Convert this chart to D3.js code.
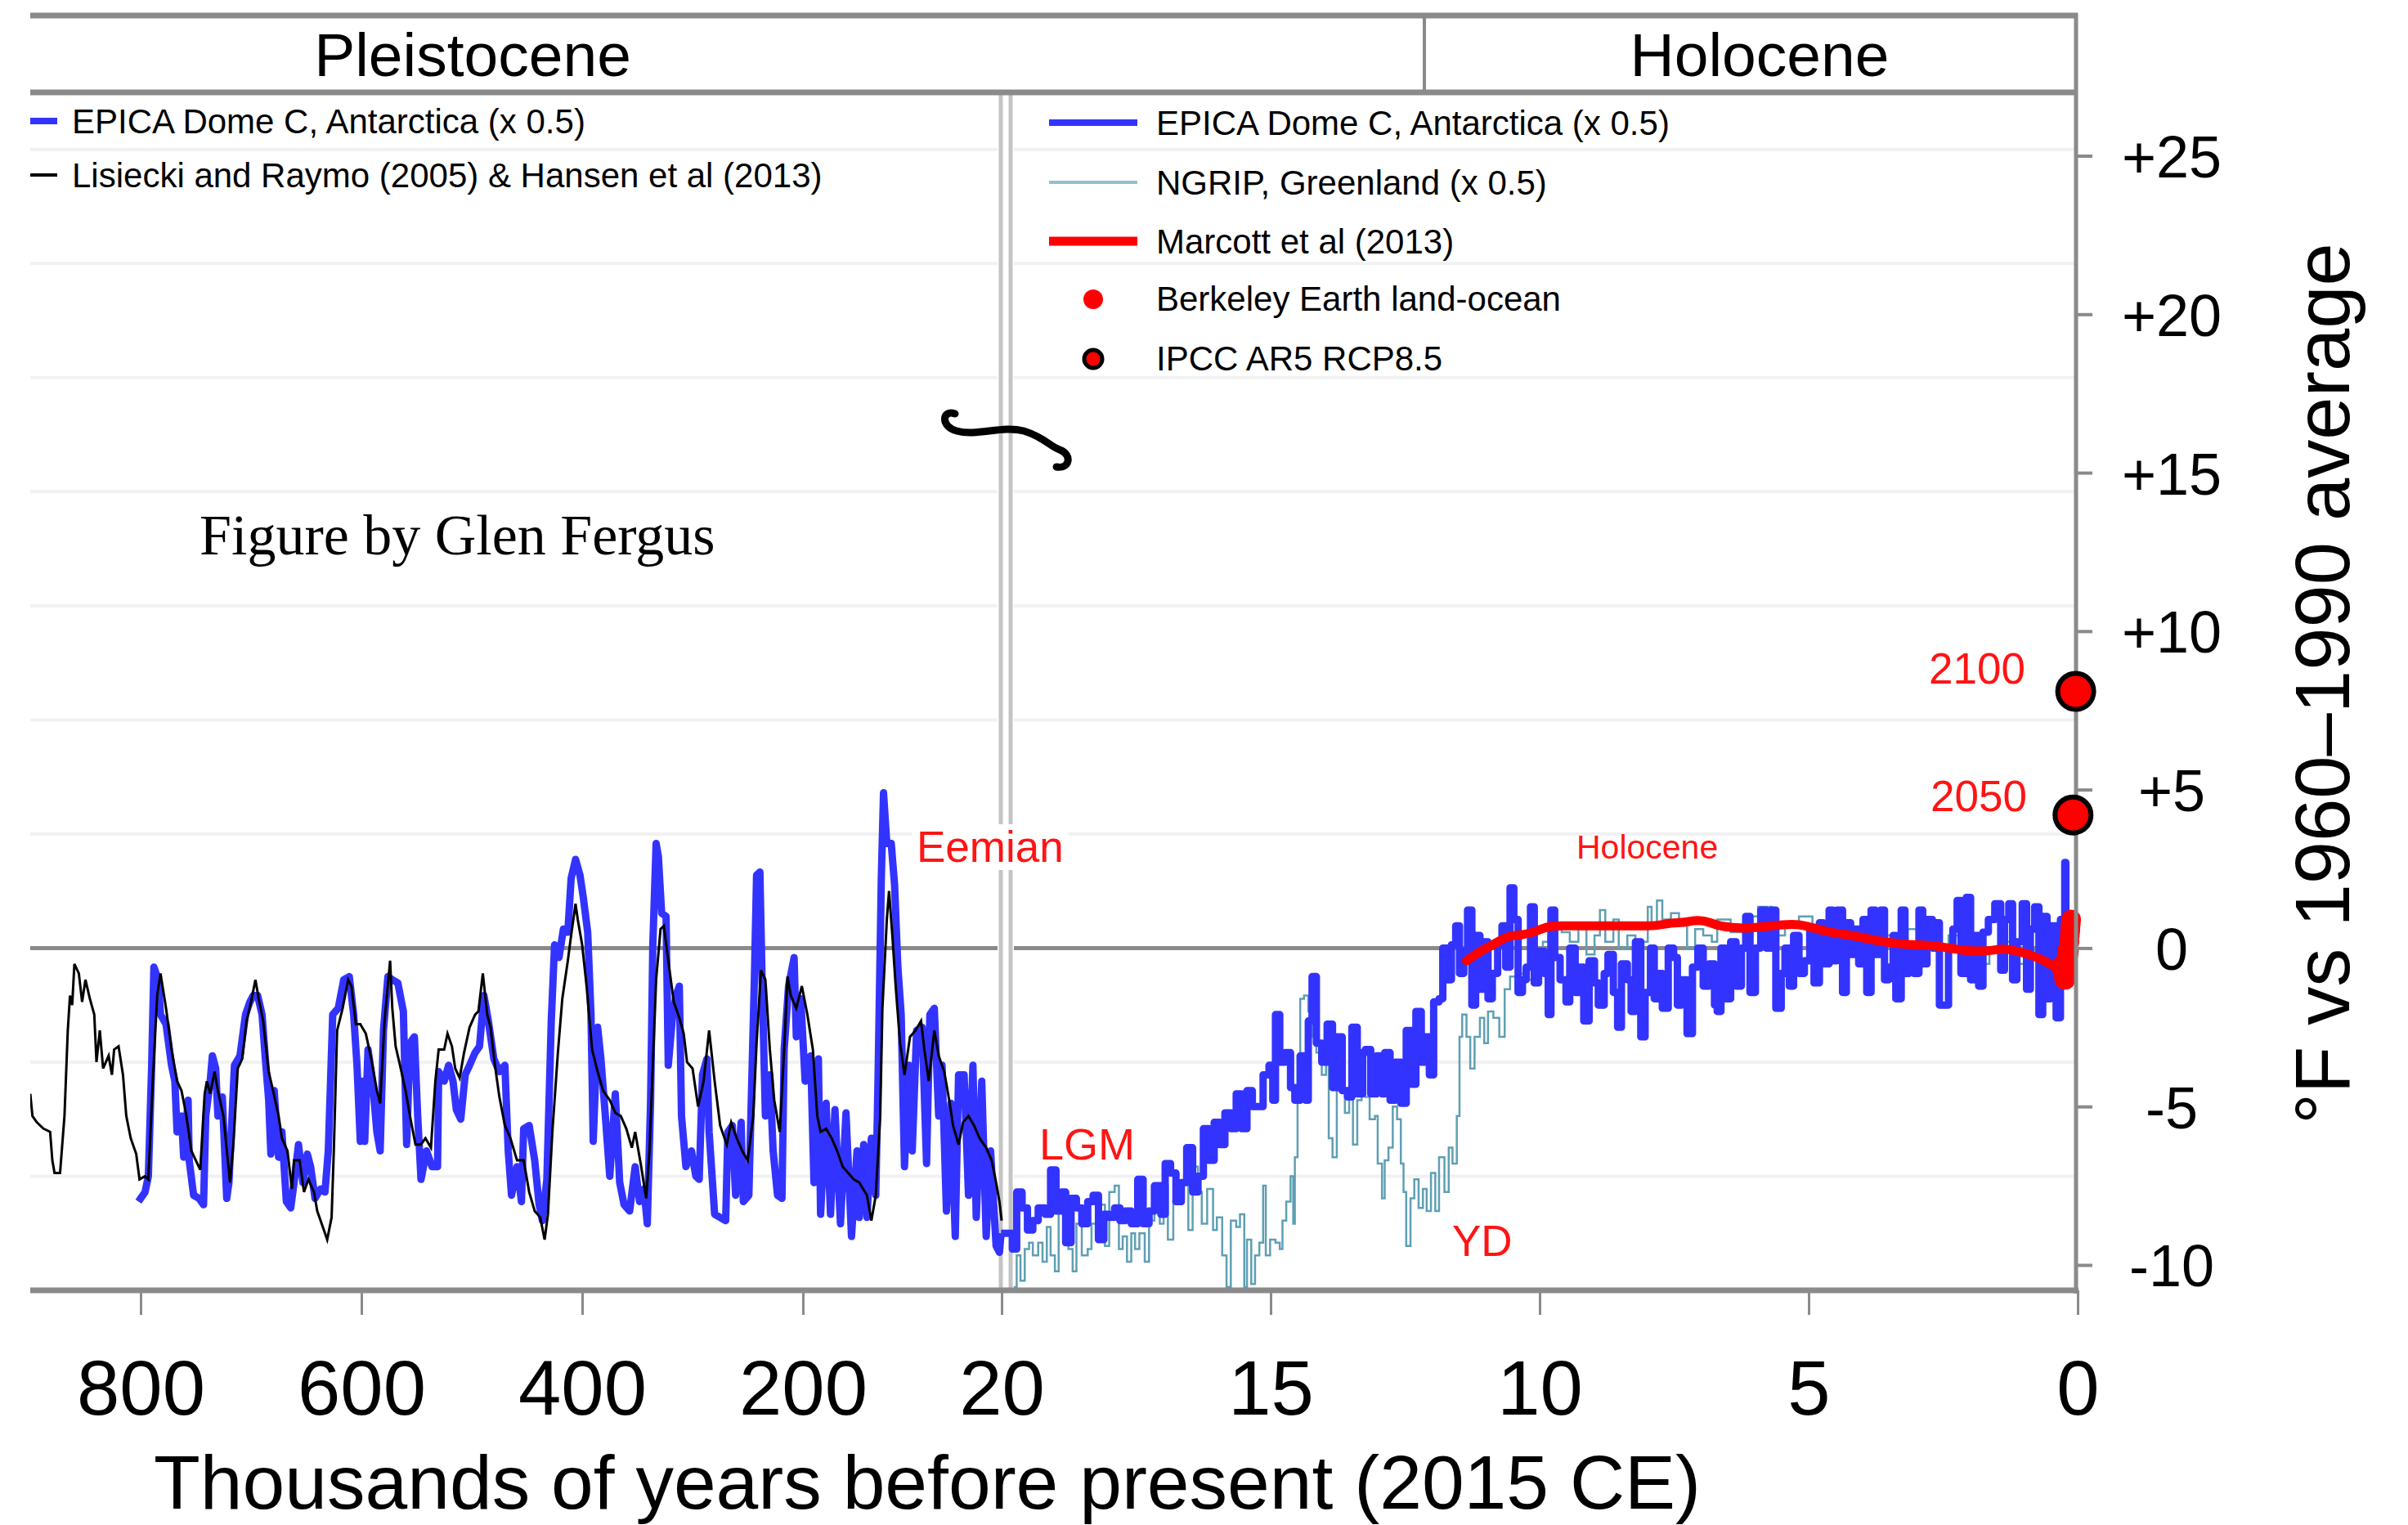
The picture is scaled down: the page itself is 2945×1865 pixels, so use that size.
<!DOCTYPE html>
<html>
<head>
<meta charset="utf-8">
<script src="https://cdn.jsdelivr.net/npm/d3@7"></script>
<style>
  body { margin: 0; background: #fff; }
  svg { display: block; font-family: "Liberation Sans", Arial, Helvetica, sans-serif; }
</style>
</head>
<body>
<div id="chart"></div>
<script>
const width = 2945;
const height = 1865;

////////////////////////////////////////////////////////
// DATA  (age in thousands of years before 2015, temperature in °F)
////////////////////////////////////////////////////////

// EPICA Dome C, Antarctica (x 0.5)
const epica = [
  [802,-8.0],[796,-7.7],[793,-7.2],[790,-3.7],[788,-0.6],[784,-1.0],[782,-2.1],[777,-2.4],[772,-3.7],[769,-4.2],
  [767,-5.8],[763,-5.3],[761,-6.6],[757,-4.8],[756,-6.7],[752,-7.8],[747,-7.9],[743,-8.1],[741,-5.3],[737,-4.2],
  [735,-3.4],[732,-3.8],[730,-5.3],[726,-4.7],[722,-7.9],[720,-7.4],[715,-3.7],[710,-3.4],[705,-2.1],[701,-1.7],
  [698,-1.5],[694,-1.5],[690,-2.1],[687,-3.5],[684,-4.8],[682,-6.5],[679,-4.5],[675,-6.6],[672,-5.8],[668,-8.0],
  [664,-8.2],[661,-7.4],[657,-6.2],[653,-7.4],[649,-6.5],[646,-6.9],[642,-7.9],[637,-7.6],[633,-7.7],[630,-6.4],
  [626,-2.1],[621,-1.9],[616,-1.0],[611,-0.9],[607,-2.1],[604,-3.7],[601,-6.1],[599,-4.2],[597,-6.1],[594,-3.2],
  [590,-4.2],[586,-5.8],[583,-6.4],[580,-2.6],[576,-0.9],[572,-1.0],[567,-1.1],[562,-2.0],[559,-6.2],[556,-3.0],
  [552,-2.8],[549,-5.3],[546,-7.3],[541,-6.4],[536,-6.9],[531,-6.9],[530,-3.9],[525,-4.2],[521,-3.7],[517,-4.2],
  [514,-5.1],[510,-5.4],[506,-4.0],[502,-3.7],[497,-3.3],[493,-3.1],[489,-1.5],[485,-2.3],[480,-3.5],[475,-3.9],
  [470,-3.7],[467,-6.4],[464,-7.8],[459,-6.9],[455,-8.0],[453,-5.7],[448,-5.6],[443,-6.7],[439,-8.1],[436,-8.6],
  [432,-7.3],[428,-2.3],[425,0.1],[421,-0.3],[417,0.6],[413,0.5],[410,2.2],[406,2.8],[402,2.3],[399,1.6],
  [395,0.5],[392,-2.1],[390,-6.1],[386,-2.5],[383,-3.5],[379,-5.3],[375,-7.2],[370,-4.6],[366,-7.4],[362,-8.1],
  [357,-8.3],[352,-6.9],[348,-8.0],[344,-7.6],[341,-8.7],[338,-4.8],[336,0.1],[333,3.3],[331,2.9],[328,1.1],
  [324,1.0],[322,-3.7],[318,-2.1],[315,-1.5],[312,-1.2],[310,-5.3],[306,-6.9],[301,-6.4],[297,-7.2],[294,-7.3],
  [291,-4.0],[287,-3.5],[285,-5.8],[280,-8.4],[275,-8.5],[270,-8.6],[268,-5.8],[264,-5.6],[261,-7.8],[256,-5.5],
  [254,-8.0],[249,-7.8],[247,-5.1],[244,-1.0],[242,2.3],[239,2.4],[237,-1.0],[234,-5.3],[230,-4.0],[227,-6.4],
  [223,-7.8],[219,-7.9],[217,-3.2],[213,-1.2],[208,-0.3],[206,-2.8],[202,-1.6],[198,-4.2],[193,-3.4],[190,-7.4],
  [186,-3.5],[184,-8.4],[179,-4.9],[175,-8.4],[171,-5.1],[166,-8.7],[161,-5.2],[156,-9.1],[151,-6.4],[149,-8.5],
  [145,-6.2],[142,-8.5],[138,-6.0],[134,-7.8],[132,-4.2],[129,2.2],[127,4.9],[124,3.3],[120,3.3],[117,2.0],
  [114,-0.6],[111,-2.1],[108,-6.9],[104,-3.7],[101,-6.4],[97,-2.6],[92,-2.5],[88,-6.8],[85,-2.1],[81,-1.9],
  [77,-5.3],[74,-3.7],[70,-8.3],[66,-4.9],[62,-9.1],[59,-4.0],[54,-4.0],[50,-7.8],[46,-3.7],[43,-8.5],
  [38,-4.2],[34,-9.1],[30,-6.4],[25,-9.4],[22,-9.6],[20.5,-9.0],
  [19.80,-9.5],[19.72,-7.7],[19.62,-8.2],[19.52,-8.9],[19.42,-8.6],[19.32,-8.2],[19.19,-8.4],[19.09,-7.0],[18.99,-8.3],[18.89,-7.7],
  [18.81,-9.3],[18.71,-7.9],[18.61,-8.2],[18.51,-8.7],[18.40,-8.0],[18.30,-7.8],[18.20,-9.2],[18.10,-8.4],[18.00,-8.5],[17.90,-8.2],
  [17.80,-8.6],[17.70,-8.3],[17.59,-8.7],[17.47,-7.3],[17.37,-8.7],[17.26,-8.3],[17.16,-7.5],[17.04,-8.4],[16.96,-6.8],[16.86,-7.1],
  [16.76,-8.0],[16.66,-7.4],[16.56,-6.3],[16.45,-7.7],[16.35,-7.2],[16.25,-5.7],[16.15,-6.7],[16.05,-5.5],[15.95,-6.2],[15.85,-5.2],
  [15.74,-5.7],[15.64,-4.6],[15.54,-5.7],[15.44,-4.5],[15.34,-5.0],[15.24,-5.0],[15.14,-4.0],[15.03,-3.7],[14.96,-4.8],[14.91,-2.1],
  [14.83,-3.6],[14.73,-3.3],[14.63,-4.4],[14.55,-4.8],[14.45,-3.4],[14.35,-4.8],[14.30,-2.3],[14.23,-0.9],[14.15,-3.0],[14.05,-3.6],
  [13.95,-2.4],[13.85,-4.4],[13.77,-2.8],[13.67,-4.5],[13.57,-4.7],[13.49,-2.5],[13.39,-4.6],[13.29,-3.3],[13.24,-3.2],[13.14,-4.6],
  [13.03,-3.4],[12.93,-4.6],[12.88,-3.3],[12.78,-4.8],[12.68,-3.6],[12.58,-4.9],[12.48,-2.6],[12.38,-4.3],[12.30,-2.0],[12.20,-3.6],
  [12.12,-2.8],[12.05,-4.0],[11.97,-1.7],[11.87,-1.6],[11.80,0.0],[11.72,-1.0],[11.64,0.1],[11.56,0.7],[11.49,-0.8],[11.41,-0.1],
  [11.34,1.2],[11.26,-1.8],[11.19,0.4],[11.11,-1.3],[11.03,0.2],[10.96,-1.6],[10.88,-0.8],[10.78,0.1],[10.70,0.7],[10.63,-0.6],
  [10.55,1.9],[10.48,0.9],[10.40,-1.4],[10.32,-1.0],[10.25,-0.6],[10.17,1.3],[10.10,-1.1],[10.02,-0.1],[9.92,-0.8],[9.84,-2.1],
  [9.79,1.2],[9.72,-0.3],[9.62,-1.0],[9.51,-1.7],[9.44,0.0],[9.34,-1.4],[9.26,-0.6],[9.18,-2.3],[9.08,-0.4],[8.98,-1.1],
  [8.91,-1.8],[8.80,-0.8],[8.73,-0.2],[8.63,-1.4],[8.55,-2.5],[8.48,-0.5],[8.37,-1.0],[8.30,-2.0],[8.22,0.2],[8.12,-2.8],
  [8.04,-1.4],[7.94,0.0],[7.87,-1.6],[7.79,-0.8],[7.72,-1.9],[7.61,0.0],[7.51,-0.3],[7.44,-1.8],[7.36,-1.0],[7.26,-2.7],
  [7.16,-0.6],[7.06,0.0],[6.96,-1.2],[6.85,-0.5],[6.75,-1.8],[6.70,-2.0],[6.63,0.0],[6.55,-1.6],[6.45,0.2],[6.35,-1.2],
  [6.25,0.0],[6.17,1.0],[6.09,-1.4],[5.99,0.0],[5.89,1.2],[5.79,0.0],[5.69,1.2],[5.61,-1.9],[5.51,-0.8],[5.44,0.0],
  [5.36,-1.2],[5.28,0.4],[5.18,-0.8],[5.08,-0.4],[4.98,0.6],[4.90,-1.1],[4.80,0.8],[4.73,-0.5],[4.62,1.2],[4.55,-0.4],
  [4.47,1.2],[4.37,-1.4],[4.30,0.8],[4.22,-0.2],[4.14,0.6],[4.07,-0.5],[3.99,0.9],[3.92,-1.4],[3.84,1.2],[3.76,-0.2],
  [3.66,1.2],[3.59,-1.0],[3.51,-0.6],[3.43,0.4],[3.38,-1.6],[3.28,1.2],[3.21,-0.8],[3.13,0.0],[3.05,-0.8],[2.95,1.2],
  [2.88,-0.5],[2.80,0.9],[2.70,0.0],[2.62,0.8],[2.57,-1.8],[2.47,-1.8],[2.40,0.0],[2.32,0.6],[2.24,1.5],[2.17,-0.8],
  [2.07,1.6],[1.99,-1.0],[1.91,0.4],[1.84,-1.2],[1.76,0.5],[1.66,0.9],[1.54,1.4],[1.43,-0.7],[1.36,0.9],[1.28,1.4],
  [1.21,-1.0],[1.13,0.2],[1.03,1.4],[0.95,-1.3],[0.88,0.6],[0.80,1.3],[0.72,-2.1],[0.65,1.0],[0.57,-1.6],[0.50,0.7],
  [0.40,-2.2],[0.32,0.9],[0.26,0.5],[0.24,2.7],[0.22,0.9]
];

// Lisiecki and Raymo (2005) & Hansen et al (2013)
const lr04 = [
  [900,-4.6],[898,-5.3],[894,-5.5],[888,-5.7],[882,-5.8],[880,-6.7],[878,-7.1],[873,-7.1],[869,-5.3],[866,-2.6],
  [864,-1.5],[862,-1.8],[860,-0.5],[856,-0.8],[853,-1.7],[850,-1.0],[846,-1.6],[842,-2.1],[840,-3.6],[837,-2.6],
  [834,-3.8],[829,-3.4],[826,-4.0],[824,-3.2],[820,-3.1],[816,-4.0],[813,-5.3],[809,-6.0],[804,-6.5],[801,-7.3],
  [796,-7.2],[793,-7.3],[789,-4.2],[785,-1.5],[782,-0.8],[777,-1.9],[772,-3.2],[767,-4.2],[763,-4.5],[759,-5.2],
  [754,-6.4],[750,-6.7],[746,-7.0],[742,-4.6],[740,-4.2],[737,-4.6],[733,-3.9],[730,-4.5],[725,-5.3],[719,-7.4],
  [716,-6.2],[712,-3.8],[708,-3.5],[704,-2.3],[700,-1.7],[696,-1.0],[693,-1.6],[689,-2.3],[684,-3.9],[680,-4.5],
  [675,-5.3],[672,-6.0],[667,-6.4],[663,-7.6],[661,-6.7],[656,-6.7],[652,-7.7],[648,-7.3],[643,-7.7],[640,-8.3],
  [636,-8.7],[631,-9.2],[627,-8.5],[625,-6.4],[622,-2.6],[617,-1.9],[612,-1.0],[609,-1.2],[605,-2.4],[601,-2.4],
  [596,-2.7],[591,-3.5],[586,-4.5],[583,-4.9],[579,-2.3],[574,-0.4],[572,-1.9],[569,-3.1],[565,-3.7],[560,-4.5],
  [556,-5.3],[551,-6.2],[546,-6.2],[542,-6.0],[537,-6.3],[533,-4.2],[530,-3.2],[525,-3.2],[522,-2.7],[518,-3.1],
  [515,-3.8],[511,-4.1],[507,-3.3],[502,-2.5],[497,-2.1],[494,-2.0],[490,-0.8],[486,-2.1],[483,-2.5],[479,-3.7],
  [475,-4.7],[470,-5.6],[465,-6.0],[459,-6.7],[453,-6.7],[448,-7.7],[443,-8.3],[438,-8.5],[434,-9.2],[431,-8.4],
  [427,-5.8],[422,-3.3],[418,-1.6],[413,-0.4],[410,0.4],[406,1.4],[404,0.9],[400,0.1],[396,-1.2],[391,-3.2],
  [386,-3.9],[381,-4.5],[375,-4.8],[370,-5.2],[365,-5.3],[360,-5.7],[355,-6.3],[352,-5.8],[347,-6.8],[342,-7.9],
  [339,-6.4],[337,-4.6],[333,-1.0],[329,0.6],[326,0.7],[322,-0.4],[317,-1.7],[312,-2.2],[308,-2.7],[305,-3.6],
  [300,-3.8],[295,-5.0],[290,-4.2],[285,-2.6],[280,-4.2],[275,-5.6],[269,-6.2],[265,-5.5],[260,-6.0],[255,-6.4],
  [250,-6.7],[245,-5.3],[242,-3.0],[238,-0.7],[234,-1.0],[230,-3.2],[226,-4.8],[221,-5.8],[217,-3.2],[214,-0.9],
  [211,-1.5],[206,-1.9],[201,-1.2],[196,-2.1],[191,-3.2],[187,-5.3],[184,-5.8],[179,-5.7],[174,-6.0],[169,-6.4],
  [164,-6.9],[159,-7.1],[154,-7.3],[149,-7.4],[142,-7.8],[138,-8.6],[134,-7.8],[130,-5.3],[128,-1.9],[124,0.9],
  [122,1.8],[119,0.4],[116,-1.2],[112,-3.0],[108,-4.0],[103,-2.8],[98,-2.6],[93,-2.3],[90,-3.2],[86,-4.2],
  [81,-2.6],[77,-3.4],[72,-3.9],[67,-4.9],[64,-5.6],[59,-6.2],[55,-5.5],[50,-5.3],[45,-5.6],[40,-6.0],
  [34,-6.3],[29,-6.7],[25,-7.4],[22,-8.0],[20,-8.6]
];

// NGRIP, Greenland (x 0.5)
const ngrip = [
  [19.77,-10.7],[19.72,-9.7],[19.65,-10.5],[19.57,-9.5],[19.49,-9.3],[19.42,-9.7],[19.32,-9.3],[19.24,-9.9],[19.16,-8.8],[19.09,-9.7],
  [19.01,-10.2],[18.94,-7.9],[18.83,-8.7],[18.76,-9.5],[18.68,-10.2],[18.61,-8.7],[18.51,-9.7],[18.40,-9.5],[18.33,-8.7],[18.25,-9.1],
  [18.15,-8.1],[18.08,-9.4],[18.00,-7.7],[17.90,-7.5],[17.82,-9.5],[17.75,-9.1],[17.67,-9.9],[17.59,-9.0],[17.52,-9.5],[17.44,-9.0],
  [17.34,-9.9],[17.26,-8.6],[17.16,-8.0],[17.06,-8.7],[16.99,-7.5],[16.91,-9.2],[16.81,-8.0],[16.71,-7.7],[16.63,-7.4],[16.53,-8.9],
  [16.45,-6.9],[16.35,-7.7],[16.28,-8.7],[16.18,-7.6],[16.07,-8.9],[16.00,-8.5],[15.90,-9.7],[15.82,-10.7],[15.74,-8.6],[15.64,-8.8],
  [15.57,-8.4],[15.49,-10.7],[15.44,-9.2],[15.36,-10.6],[15.29,-9.7],[15.21,-9.3],[15.14,-7.5],[15.09,-9.7],[15.01,-9.2],[14.91,-9.3],
  [14.83,-9.5],[14.78,-8.6],[14.71,-8.0],[14.63,-7.2],[14.58,-8.7],[14.55,-6.6],[14.50,-3.4],[14.45,-1.6],[14.38,-1.5],[14.30,-2.0],
  [14.23,-2.8],[14.15,-3.3],[14.05,-4.0],[13.97,-3.6],[13.92,-6.0],[13.85,-6.6],[13.77,-4.5],[13.69,-4.1],[13.62,-5.2],[13.54,-4.6],
  [13.47,-6.2],[13.39,-4.8],[13.31,-4.4],[13.24,-4.7],[13.16,-5.4],[13.06,-5.3],[13.01,-6.8],[12.93,-7.9],[12.88,-6.7],[12.81,-6.3],
  [12.73,-5.0],[12.65,-5.4],[12.58,-6.8],[12.53,-7.7],[12.48,-9.4],[12.40,-7.9],[12.33,-7.3],[12.25,-8.2],[12.17,-7.6],[12.10,-8.3],
  [12.02,-7.1],[11.94,-8.3],[11.87,-6.6],[11.77,-7.7],[11.69,-6.3],[11.62,-6.8],[11.54,-5.3],[11.49,-2.8],[11.44,-2.1],[11.36,-2.8],
  [11.29,-3.8],[11.21,-2.8],[11.11,-2.2],[11.03,-3.0],[10.96,-2.0],[10.86,-2.2],[10.75,-2.8],[10.65,-1.3],[10.55,-0.9],[10.45,-1.4],
  [10.35,-0.8],[10.25,-1.0],[10.15,-0.4],[10.05,-0.1],[9.94,0.2],[9.84,0.4],[9.74,0.6],[9.59,0.5],[9.44,0.2],[9.28,0.7],
  [9.13,-0.2],[8.98,0.4],[8.88,1.2],[8.78,0.2],[8.63,0.9],[8.53,0.0],[8.37,0.4],[8.22,-0.4],[8.12,0.2],[7.99,1.3],
  [7.92,0.7],[7.82,1.5],[7.72,0.9],[7.56,1.1],[7.41,0.7],[7.26,0.0],[7.11,0.6],[6.96,0.4],[6.80,0.2],[6.70,0.9],
  [6.45,0.5],[6.19,1.0],[5.94,1.3],[5.69,0.4],[5.44,0.8],[5.18,1.0],[4.93,0.4],[4.68,0.2],[4.42,0.6],[4.17,0.1],
  [3.92,0.7],[3.66,0.4],[3.41,0.2],[3.16,0.6],[2.90,0.4],[2.65,0.0],[2.40,0.4],[2.14,0.2],[1.89,-0.5],[1.64,0.0],
  [1.38,0.2],[1.13,-0.5],[0.88,-0.1],[0.62,-0.4],[0.47,0.0],[0.10,-0.2]
];

// Marcott et al (2013)
const marcott = [
  [11.36,-0.4],[11.11,-0.1],[10.86,0.1],[10.60,0.4],[10.35,0.4],[10.10,0.5],[9.84,0.7],[9.59,0.7],[9.34,0.7],[9.08,0.7],
  [8.83,0.7],[8.58,0.7],[8.32,0.7],[8.07,0.7],[7.82,0.7],[7.56,0.8],[7.31,0.8],[7.06,0.9],[6.80,0.8],[6.70,0.7],
  [6.19,0.6],[5.69,0.7],[5.18,0.8],[4.68,0.5],[4.17,0.4],[3.66,0.2],[3.16,0.1],[2.65,0.1],[2.14,-0.1],[1.64,-0.1],
  [1.38,0.0],[1.13,-0.1],[0.88,-0.2],[0.62,-0.4],[0.42,-0.6],[0.20,-0.8]
];

// Berkeley Earth land-ocean
const berkeleyYears = [1850,1855,1860,1865,1870,1875,1880,1885,1890,1895,1900,1905,1910,1915,1920,1925,1930,
                       1935,1940,1945,1950,1955,1960,1965,1970,1975,1980,1985,1990,1995,2000,2005,2010,2015];
const berkeleyTemps = [-0.7,-0.6,-0.8,-0.5,-0.6,-0.7,-0.6,-0.8,-1.0,-0.7,-0.6,-0.9,-1.0,-0.6,-0.6,-0.5,-0.4,
                       -0.4,-0.1,-0.2,-0.4,-0.3,0.0,-0.2,-0.1,-0.1,0.2,0.2,0.4,0.5,0.6,0.7,0.8,0.9];

// IPCC AR5 RCP8.5
const ipccYears = [2050, 2100];
const ipccTemps = [4.2, 8.1];

const xTicks = [800, 600, 400, 200, 20, 15, 10, 5, 0];
const yTicks = [-10, -5, 0, 5, 10, 15, 20, 25];
const gridCelsius = [-4, -2, 2, 4, 6, 8, 10, 12, 14];

////////////////////////////////////////////////////////
// SCALES
////////////////////////////////////////////////////////

const plotLeft = 37, plotRight = 2539, plotTop = 113, plotBottom = 1578;

const x = d3.scaleLinear().domain([900, 20, 0]).range([plotLeft, 1225, 2541]);
const y = d3.scaleLinear().domain([-10.8, 27]).range([plotBottom, plotTop]);
const kyr = year => (2015 - year) / 1000;

const svg = d3.select("#chart")
    .append("svg")
    .attr("width", width)
    .attr("height", height);

svg.append("defs").append("clipPath")
    .attr("id", "plot")
    .append("rect")
    .attr("x", plotLeft).attr("y", plotTop)
    .attr("width", plotRight - plotLeft).attr("height", plotBottom - plotTop);

// GRID (every 2 °C)
svg.append("g")
    .selectAll("line")
    .data(gridCelsius)
    .enter()
    .append("line")
    .attr("x1", plotLeft).attr("x2", plotRight)
    .attr("y1", d => y(d * 1.8)).attr("y2", d => y(d * 1.8))
    .attr("stroke", "#f1f1f1")
    .attr("stroke-width", 4);

// ZERO LINE
svg.append("line")
    .attr("x1", plotLeft).attr("x2", plotRight)
    .attr("y1", y(0)).attr("y2", y(0))
    .attr("stroke", "#8a8a8a")
    .attr("stroke-width", 5);

// BREAK
svg.append("rect")
    .attr("x", 1220).attr("y", plotTop)
    .attr("width", 20).attr("height", plotBottom - plotTop)
    .attr("fill", "#fff");

[1224, 1236].forEach(bx => {
    svg.append("line")
        .attr("x1", bx).attr("x2", bx)
        .attr("y1", plotTop).attr("y2", plotBottom)
        .attr("stroke", "#c4c4c4")
        .attr("stroke-width", 5);
});

////////////////////////////////////////////////////////
// SERIES
////////////////////////////////////////////////////////

const plot = svg.append("g").attr("clip-path", "url(#plot)");

const plainLine = d3.line()
    .x(d => x(d[0]))
    .y(d => y(d[1]));

const stepLine = d3.line()
    .x(d => x(d[0]))
    .y(d => y(d[1]))
    .curve(d3.curveStepAfter);

plot.append("path")
    .datum(ngrip)
    .attr("d", stepLine)
    .attr("fill", "none")
    .attr("stroke", "#5f9fb3")
    .attr("stroke-width", 2.5);

// long record (compressed axis) as a plain line, last 20 kyr as steps
plot.append("path")
    .datum(epica.filter(d => d[0] >= 20.5))
    .attr("d", plainLine)
    .attr("fill", "none")
    .attr("stroke", "#3333ff")
    .attr("stroke-width", 9)
    .attr("stroke-linejoin", "round");

plot.append("path")
    .datum(epica.filter(d => d[0] < 21))
    .attr("d", stepLine)
    .attr("fill", "none")
    .attr("stroke", "#3333ff")
    .attr("stroke-width", 9)
    .attr("stroke-linejoin", "round");

plot.append("path")
    .datum(lr04)
    .attr("d", plainLine)
    .attr("fill", "none")
    .attr("stroke", "#000")
    .attr("stroke-width", 3);

plot.append("path")
    .datum(marcott)
    .attr("d", d3.line().x(d => x(d[0])).y(d => y(d[1])).curve(d3.curveBasis))
    .attr("fill", "none")
    .attr("stroke", "#ff0000")
    .attr("stroke-width", 11)
    .attr("stroke-linecap", "round");

svg.append("g")
    .selectAll("circle")
    .data(berkeleyYears)
    .enter()
    .append("circle")
    .attr("cx", d => x(kyr(d)) - 8)
    .attr("cy", (d, i) => y(berkeleyTemps[i]))
    .attr("r", 12)
    .attr("fill", "#ff0000");

////////////////////////////////////////////////////////
// FRAME
////////////////////////////////////////////////////////

const gray = "#8a8a8a";

svg.append("line").attr("x1", plotLeft).attr("x2", plotRight + 2).attr("y1", 19).attr("y2", 19)
    .attr("stroke", gray).attr("stroke-width", 7);
svg.append("line").attr("x1", plotLeft).attr("x2", plotRight + 2).attr("y1", plotTop).attr("y2", plotTop)
    .attr("stroke", gray).attr("stroke-width", 7);
svg.append("line").attr("x1", 1742).attr("x2", 1742).attr("y1", 19).attr("y2", plotTop)
    .attr("stroke", gray).attr("stroke-width", 4);
svg.append("line").attr("x1", plotRight).attr("x2", plotRight).attr("y1", 16).attr("y2", plotBottom + 4)
    .attr("stroke", gray).attr("stroke-width", 5);
svg.append("line").attr("x1", plotLeft).attr("x2", plotRight + 3).attr("y1", plotBottom).attr("y2", plotBottom)
    .attr("stroke", gray).attr("stroke-width", 7);

// X AXIS
const xAxis = svg.append("g")
    .attr("transform", `translate(0,${plotBottom})`)
    .call(d3.axisBottom(x).tickValues(xTicks).tickSize(30).tickPadding(55).tickFormat(d => d));

xAxis.select(".domain").remove();
xAxis.selectAll(".tick line").attr("stroke", gray).attr("stroke-width", 3);
xAxis.selectAll(".tick text")
    .attr("fill", "#000")
    .style("font-size", "94px")
    .style("font-family", "'Liberation Sans', Arial, sans-serif");

// Y AXIS (right)
const yAxis = svg.append("g")
    .attr("transform", `translate(${plotRight},0)`)
    .call(d3.axisRight(y).tickValues(yTicks).tickSize(20)
        .tickFormat(d => d > 0 ? "+" + d : String(d)));

yAxis.select(".domain").remove();
yAxis.selectAll(".tick line").attr("stroke", gray).attr("stroke-width", 4);
yAxis.selectAll(".tick text")
    .attr("x", 117)
    .attr("dy", "0.36em")
    .attr("text-anchor", "middle")
    .attr("fill", "#000")
    .style("font-size", "72px")
    .style("font-family", "'Liberation Sans', Arial, sans-serif");

// AXIS LABELS
svg.append("text")
    .attr("x", 188)
    .attr("y", 1845)
    .style("font-size", "93px")
    .text("Thousands of years before present (2015 CE)");

svg.append("text")
    .attr("transform", "translate(2873,836) rotate(-90)")
    .attr("text-anchor", "middle")
    .style("font-size", "94px")
    .text("°F vs 1960–1990 average");

// HEADERS
svg.append("text").attr("x", 578).attr("y", 93).attr("text-anchor", "middle")
    .style("font-size", "75px").text("Pleistocene");
svg.append("text").attr("x", 2152).attr("y", 93).attr("text-anchor", "middle")
    .style("font-size", "75px").text("Holocene");

////////////////////////////////////////////////////////
// LEGENDS
////////////////////////////////////////////////////////

const legendLeft = [
    { label: "EPICA Dome C, Antarctica (x 0.5)", color: "#3333ff", w: 8, y: 163 },
    { label: "Lisiecki and Raymo (2005) & Hansen et al (2013)", color: "#000", w: 4, y: 229 }
];

legendLeft.forEach(d => {
    svg.append("line").attr("x1", plotLeft).attr("x2", 70)
        .attr("y1", d.y - 15).attr("y2", d.y - 15)
        .attr("stroke", d.color).attr("stroke-width", d.w);
    svg.append("text").attr("x", 88).attr("y", d.y)
        .style("font-size", "42px").text(d.label);
});

const legendRight = [
    { label: "EPICA Dome C, Antarctica (x 0.5)", type: "line", color: "#3333ff", w: 8, y: 165 },
    { label: "NGRIP, Greenland (x 0.5)", type: "line", color: "#8fc2cf", w: 4, y: 238 },
    { label: "Marcott et al (2013)", type: "line", color: "#ff0000", w: 11, y: 310 },
    { label: "Berkeley Earth land-ocean", type: "dot", y: 380 },
    { label: "IPCC AR5 RCP8.5", type: "ring", y: 453 }
];

legendRight.forEach(d => {
    if (d.type === "line") {
        svg.append("line").attr("x1", 1283).attr("x2", 1391)
            .attr("y1", d.y - 15).attr("y2", d.y - 15)
            .attr("stroke", d.color).attr("stroke-width", d.w);
    } else if (d.type === "dot") {
        svg.append("circle").attr("cx", 1337).attr("cy", d.y - 14).attr("r", 12).attr("fill", "#ff0000");
    } else {
        svg.append("circle").attr("cx", 1337).attr("cy", d.y - 14).attr("r", 11)
            .attr("fill", "#ff0000").attr("stroke", "#000").attr("stroke-width", 5);
    }
    svg.append("text").attr("x", 1414).attr("y", d.y)
        .style("font-size", "42px").text(d.label);
});

////////////////////////////////////////////////////////
// ANNOTATIONS
////////////////////////////////////////////////////////

svg.append("text")
    .attr("x", 244).attr("y", 678)
    .style("font-family", "'Liberation Serif', 'Times New Roman', serif")
    .style("font-size", "70px")
    .text("Figure by Glen Fergus");

// break symbol
svg.append("path")
    .attr("d", "M1168,506 C1152,500 1150,522 1170,527 C1195,534 1225,520 1252,527 C1276,534 1284,546 1296,550 C1312,556 1308,574 1292,571")
    .attr("fill", "none")
    .attr("stroke", "#000")
    .attr("stroke-width", 9)
    .attr("stroke-linecap", "round");

svg.append("rect").attr("x", 1115).attr("y", 1008).attr("width", 192).attr("height", 56).attr("fill", "#fff");

const notes = [
    { text: "Eemian", x: 1121, y: 1054, size: 53 },
    { text: "LGM", x: 1271, y: 1418, size: 54 },
    { text: "YD", x: 1776, y: 1536, size: 53 },
    { text: "Holocene", x: 1928, y: 1050, size: 41 },
    { text: "2100", x: 2359, y: 836, size: 53 },
    { text: "2050", x: 2361, y: 992, size: 53 }
];

svg.append("g")
    .selectAll("text")
    .data(notes)
    .enter()
    .append("text")
    .attr("x", d => d.x)
    .attr("y", d => d.y)
    .attr("fill", "#ff1414")
    .style("font-size", d => d.size + "px")
    .text(d => d.text);

// IPCC projections
svg.append("g")
    .selectAll("circle")
    .data(ipccYears)
    .enter()
    .append("circle")
    .attr("cx", d => x(kyr(d)) - 8)
    .attr("cy", (d, i) => y(ipccTemps[i]))
    .attr("r", 22)
    .attr("fill", "#ff0000")
    .attr("stroke", "#000")
    .attr("stroke-width", 6);
</script>
</body>
</html>
